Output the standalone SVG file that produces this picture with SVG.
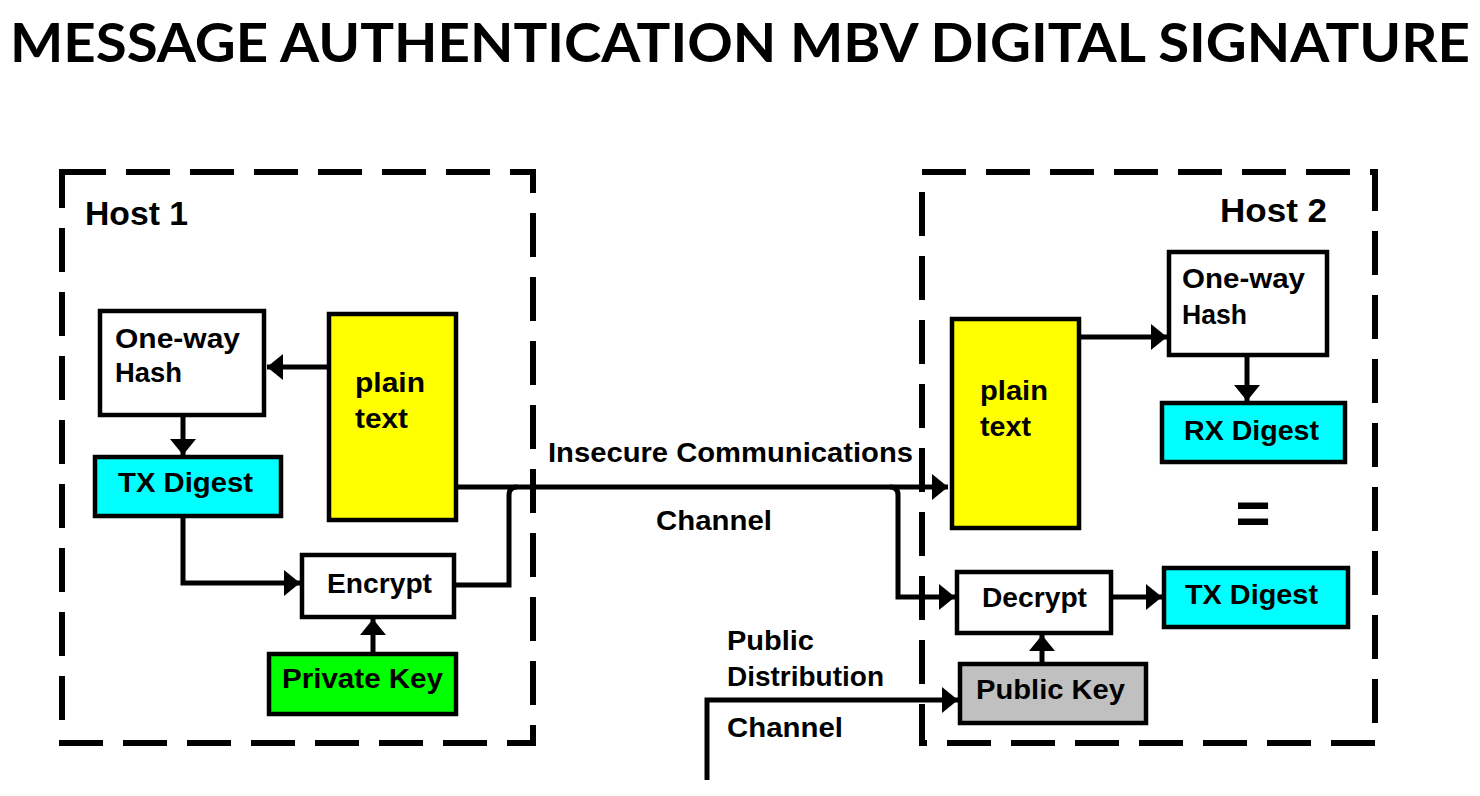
<svg xmlns="http://www.w3.org/2000/svg" width="1480" height="796" viewBox="0 0 1480 796">
<style>
.host{fill:none;stroke:#000;stroke-width:6;stroke-dasharray:44 20}
.box{stroke:#000;stroke-width:4.5}
.lbl{font-family:"Liberation Sans",Arial,sans-serif;font-weight:bold;font-size:27px;fill:#000}
.hl{font-family:"Liberation Sans",Arial,sans-serif;font-weight:bold;font-size:34px;fill:#000}
.title{font-family:Lato,"Open Sans","Liberation Sans",sans-serif;font-weight:bold;font-size:54px;fill:#000}
.con{fill:none;stroke:#000;stroke-width:5}
</style>
<defs>
<marker id="ah" markerUnits="userSpaceOnUse" markerWidth="18" markerHeight="28" refX="16" refY="13" orient="auto">
<path d="M0,0 L16,13 L0,26 Z" fill="#000"/>
</marker>
</defs>
<rect width="1480" height="796" fill="#fff"/>
<text class="title" x="10" y="62" textLength="1460" lengthAdjust="spacingAndGlyphs">MESSAGE AUTHENTICATION MBV DIGITAL SIGNATURE</text>

<g id="host1">
<rect class="host" x="62" y="172" width="471" height="571"/>
<text class="hl" x="85" y="225" textLength="103" lengthAdjust="spacingAndGlyphs">Host 1</text>
</g>
<g id="host2">
<rect class="host" x="922" y="172" width="453" height="571"/>
<text class="hl" x="1220" y="222" textLength="107" lengthAdjust="spacingAndGlyphs">Host 2</text>
</g>

<g id="hash1">
<rect class="box" x="100" y="311" width="164" height="104" fill="#fff"/>
<text class="lbl" x="115" y="348" textLength="125" lengthAdjust="spacingAndGlyphs">One-way</text>
<text class="lbl" x="115" y="382" textLength="67" lengthAdjust="spacingAndGlyphs">Hash</text>
</g>
<g id="plain1">
<rect class="box" x="329" y="314" width="127" height="206" fill="#ffff00"/>
<text class="lbl" x="355" y="392" textLength="70" lengthAdjust="spacingAndGlyphs">plain</text>
<text class="lbl" x="355" y="428" textLength="53" lengthAdjust="spacingAndGlyphs">text</text>
</g>
<g id="txd1">
<rect class="box" x="95" y="457" width="186" height="59" fill="#00ffff"/>
<text class="lbl" x="118" y="492" textLength="135" lengthAdjust="spacingAndGlyphs">TX Digest</text>
</g>
<g id="encrypt">
<rect class="box" x="302" y="555" width="152" height="62" fill="#fff"/>
<text class="lbl" x="327" y="593" textLength="105" lengthAdjust="spacingAndGlyphs">Encrypt</text>
</g>
<g id="privkey">
<rect class="box" x="269" y="654" width="187" height="60" fill="#00ff00"/>
<text class="lbl" x="282" y="688" textLength="161" lengthAdjust="spacingAndGlyphs">Private Key</text>
</g>

<g id="plain2">
<rect class="box" x="952" y="319" width="127" height="209" fill="#ffff00"/>
<text class="lbl" x="980" y="400" textLength="68" lengthAdjust="spacingAndGlyphs">plain</text>
<text class="lbl" x="980" y="436" textLength="51" lengthAdjust="spacingAndGlyphs">text</text>
</g>
<g id="hash2">
<rect class="box" x="1169" y="252" width="158" height="103" fill="#fff"/>
<text class="lbl" x="1182" y="288" textLength="123" lengthAdjust="spacingAndGlyphs">One-way</text>
<text class="lbl" x="1182" y="324" textLength="65" lengthAdjust="spacingAndGlyphs">Hash</text>
</g>
<g id="rxd">
<rect class="box" x="1162" y="403" width="183" height="59" fill="#00ffff"/>
<text class="lbl" x="1184" y="440" textLength="135" lengthAdjust="spacingAndGlyphs">RX Digest</text>
</g>
<g id="eq">
<text class="lbl" x="1253" y="533" text-anchor="middle" style="font-size:60px">=</text>
</g>
<g id="decrypt">
<rect class="box" x="957" y="572" width="154" height="61" fill="#fff"/>
<text class="lbl" x="982" y="607" textLength="105" lengthAdjust="spacingAndGlyphs">Decrypt</text>
</g>
<g id="txd2">
<rect class="box" x="1164" y="568" width="184" height="59" fill="#00ffff"/>
<text class="lbl" x="1185" y="604" textLength="133" lengthAdjust="spacingAndGlyphs">TX Digest</text>
</g>
<g id="pubkey">
<rect class="box" x="960" y="664" width="186" height="59" fill="#c0c0c0"/>
<text class="lbl" x="976" y="699" textLength="149" lengthAdjust="spacingAndGlyphs">Public Key</text>
</g>

<g id="labels">
<text class="lbl" x="548" y="462" textLength="365" lengthAdjust="spacingAndGlyphs">Insecure Communications</text>
<text class="lbl" x="656" y="530" textLength="116" lengthAdjust="spacingAndGlyphs">Channel</text>
<text class="lbl" x="727" y="650" textLength="87" lengthAdjust="spacingAndGlyphs">Public</text>
<text class="lbl" x="727" y="686" textLength="157" lengthAdjust="spacingAndGlyphs">Distribution</text>
<text class="lbl" x="727" y="737" textLength="116" lengthAdjust="spacingAndGlyphs">Channel</text>
</g>

<g id="connectors">
<path class="con" d="M327,367 H267" marker-end="url(#ah)"/>
<path class="con" d="M183,417 V455" marker-end="url(#ah)"/>
<path class="con" d="M183,518 V583 H300" marker-end="url(#ah)"/>
<path class="con" d="M373,652 V619" marker-end="url(#ah)"/>
<path class="con" d="M455,585 H509 V495 Q509,487 517,487"/>
<path class="con" d="M457,487 H948" marker-end="url(#ah)"/>
<path class="con" d="M890,487 Q898,487 898,495 V597 H955" marker-end="url(#ah)"/>
<path class="con" d="M707,780 V700 H958" marker-end="url(#ah)"/>
<path class="con" d="M1080,337 H1167" marker-end="url(#ah)"/>
<path class="con" d="M1247,356 V401" marker-end="url(#ah)"/>
<path class="con" d="M1112,597 H1162" marker-end="url(#ah)"/>
<path class="con" d="M1042,662 V635" marker-end="url(#ah)"/>
</g>
</svg>
